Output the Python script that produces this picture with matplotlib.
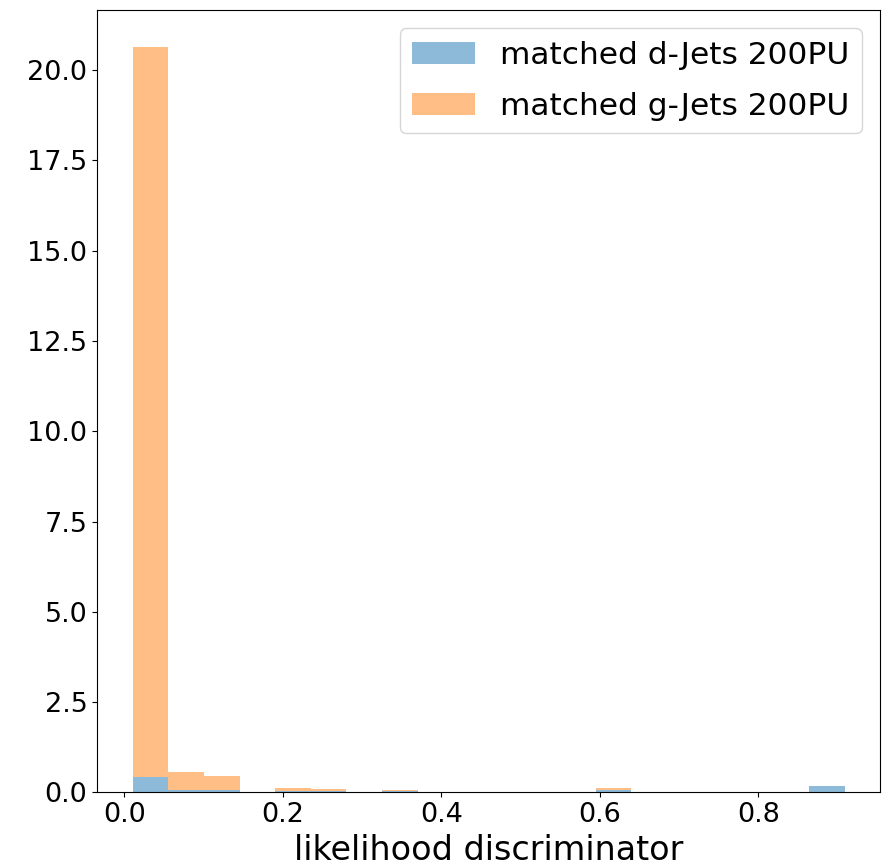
import numpy as np
import matplotlib
matplotlib.use("Agg")
import matplotlib.pyplot as plt

# Common binning of the likelihood discriminator (20 bins)
bin_lo = 0.0105
bin_hi = 0.909
n_bins = 20

# Bin contents per jet class (stacked: g-jets sit on top of d-jets)
d_jets = [0.42, 0.066, 0.066, 0.0, 0.035, 0.035, 0.0, 0.03, 0.0, 0.0,
          0.0, 0.0, 0.0, 0.07, 0.0, 0.0, 0.0, 0.0, 0.0, 0.18]
g_jets = [20.22, 0.49, 0.40, 0.0, 0.095, 0.065, 0.0, 0.04, 0.0, 0.0,
          0.0, 0.0, 0.0, 0.06, 0.0, 0.0, 0.0, 0.0, 0.0, 0.0]
labels = ["matched d-Jets 200PU", "matched g-Jets 200PU"]

edges = np.linspace(bin_lo, bin_hi, n_bins + 1)
centers = 0.5 * (edges[:-1] + edges[1:])

fig = plt.figure(figsize=(8.83, 8.67), dpi=100)
ax = fig.add_axes([0.11, 0.086, 0.887, 0.903])

ax.hist([centers, centers], bins=edges, weights=[d_jets, g_jets],
        stacked=True, alpha=0.5, label=labels)

ax.set_xlabel("likelihood discriminator", fontsize=24)
ax.tick_params(labelsize=19.5)
ax.legend(fontsize=22.5, labelspacing=0.7, borderaxespad=0.6)

fig.savefig("out.png", dpi=100)
